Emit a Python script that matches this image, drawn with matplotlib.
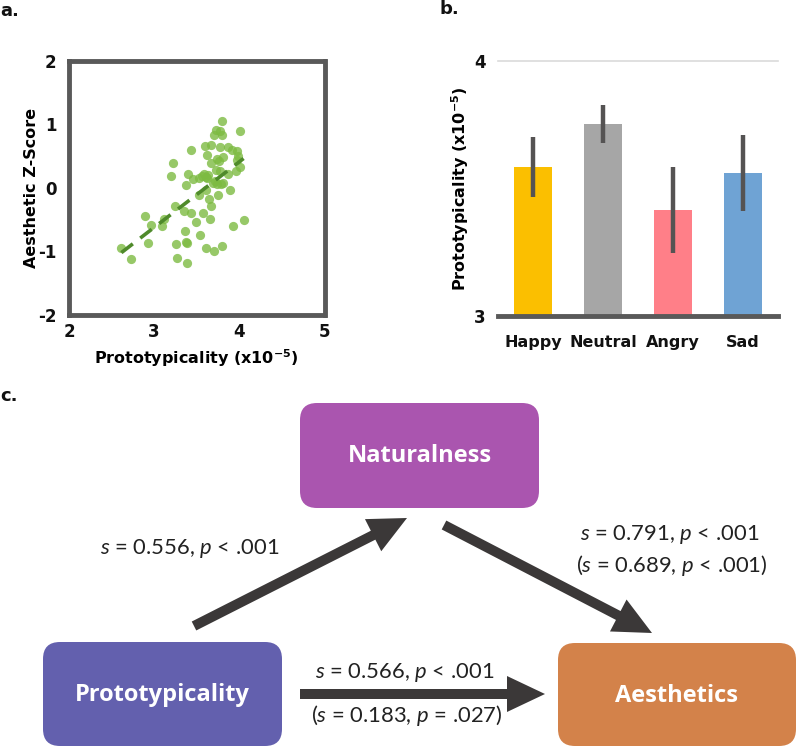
import matplotlib
matplotlib.use("Agg")
import matplotlib.pyplot as plt
from matplotlib.patches import FancyBboxPatch, FancyArrow
import numpy as np

plt.rcParams['font.family'] = ['DejaVu Sans']
plt.rcParams['mathtext.fontset'] = 'custom'
plt.rcParams['mathtext.it'] = 'Lato:italic'
plt.rcParams['mathtext.rm'] = 'Lato'
plt.rcParams['mathtext.default'] = 'regular'

# ---------------- data ----------------
# panel a: scatter of prototypicality (x1e-5) vs aesthetic z-score
proto_x = [3.798, 3.724, 3.778, 3.704, 3.798, 4.004, 3.428, 3.595, 3.673, 3.770,
           3.868, 3.914, 3.977, 3.619, 3.732, 3.809, 3.669, 3.759, 3.988, 3.977,
           4.004, 3.965, 3.222, 3.198, 3.401, 3.451, 3.374, 3.521, 3.580, 3.607,
           3.630, 3.778, 3.871, 3.696, 3.739, 3.786, 3.813, 3.603, 3.747, 3.887,
           3.521, 3.646, 3.665, 3.245, 3.354, 3.436, 3.572, 3.654, 3.490, 2.887,
           2.961, 3.117, 3.097, 3.362, 3.541, 3.922, 4.058, 2.922, 3.261, 3.377,
           3.389, 3.603, 3.704, 3.794, 2.615, 2.728, 3.272, 3.381, 3.724, 3.560,
           3.620, 3.712]
aesthetic_z = [1.043, 0.912, 0.891, 0.824, 0.829, 0.891, 0.599, 0.656, 0.672, 0.641,
               0.641, 0.588, 0.573, 0.520, 0.458, 0.484, 0.395, 0.421, 0.499, 0.431,
               0.327, 0.269, 0.384, 0.191, 0.212, 0.133, 0.039, 0.154, 0.222, 0.170,
               0.196, 0.269, 0.217, 0.076, 0.055, 0.065, 0.076, -0.029, -0.112, -0.039,
               -0.112, -0.175, -0.285, -0.290, -0.369, -0.400, -0.390, -0.494, -0.546, -0.442,
               -0.583, -0.484, -0.599, -0.682, -0.750, -0.599, -0.510, -0.871, -0.881, -0.850,
               -0.865, -0.949, -0.991, -0.918, -0.954, -1.116, -1.106, -1.184, 0.274, 0.180,
               0.150, 0.110]
trend_x = [2.615, 4.05]
trend_y = [-1.02, 0.46]
a_xticks = [2, 3, 4, 5]
a_yticks = [-2, -1, 0, 1, 2]

# panel b: mean prototypicality by emotion
emotions = ['Happy', 'Neutral', 'Angry', 'Sad']
proto_mean = [3.584, 3.753, 3.417, 3.560]
proto_err = [0.117, 0.076, 0.168, 0.149]
bar_colors = ['#FBBF00', '#A6A6A6', '#FF7F88', '#6FA3D4']
b_yticks = [3, 4]

# panel c: mediation diagram
node_names = ['Naturalness', 'Prototypicality', 'Aesthetics']
node_colors = ['#AA55AF', '#6360AE', '#D3824A']
path_a = r'$\mathit{s}$ = 0.556, $\mathit{p}$ < .001'
path_b = [r'$\mathit{s}$ = 0.791, $\mathit{p}$ < .001', r'($\mathit{s}$ = 0.689, $\mathit{p}$ < .001)']
path_c = [r'$\mathit{s}$ = 0.566, $\mathit{p}$ < .001', r'($\mathit{s}$ = 0.183, $\mathit{p}$ = .027)']

W, H = 797, 747
fig = plt.figure(figsize=(W / 100, H / 100), dpi=100)

spine_col = '#595959'
tick_font = dict(fontsize=12, fontweight='bold', color='#111111')

# ---------------- panel a ----------------
axa = fig.add_axes([69 / W, 1 - 315 / H, 255.5 / W, 254.5 / H])
axa.scatter(proto_x, aesthetic_z, s=44, color='#7DBB42', alpha=0.8, linewidths=0, zorder=2)
axa.plot(trend_x, trend_y, color='#4F8A2B', lw=2.6, dashes=(4, 2.6), zorder=3)
axa.set_xlim(2, 5)
axa.set_ylim(-2, 2)
axa.set_xticks(a_xticks)
axa.set_yticks(a_yticks)
axa.set_xticklabels([str(t) for t in a_xticks], **tick_font)
axa.set_yticklabels([str(t) for t in a_yticks], **tick_font)
axa.tick_params(length=0, pad=6)
axa.tick_params(axis='y', pad=9)
for sp in axa.spines.values():
    sp.set_color(spine_col)
    sp.set_linewidth(3.5)
axa.set_xlabel('Prototypicality (x10$^{-5}$)', fontsize=11.5, fontweight='bold', labelpad=4)
axa.set_ylabel('Aesthetic Z-Score', fontsize=11.5, fontweight='bold', labelpad=-1)

# ---------------- panel b ----------------
axb = fig.add_axes([498 / W, 1 - 316 / H, 280 / W, 255 / H])
xpos = np.arange(len(emotions))
axb.bar(xpos, np.array(proto_mean) - 3, bottom=3, width=0.557, color=bar_colors, zorder=2)
axb.errorbar(xpos, proto_mean, yerr=proto_err, fmt='none', ecolor='#555353',
             elinewidth=3.2, capsize=0, zorder=3)
axb.set_xlim(-0.5, 3.5)
axb.set_ylim(3, 4)
axb.axhline(4, color='#DADADA', lw=1.2, clip_on=False, zorder=1)
axb.set_xticks(xpos)
axb.set_xticklabels(emotions, fontsize=11.5, fontweight='bold', color='#111111')
axb.set_yticks(b_yticks)
axb.set_yticklabels([str(t) for t in b_yticks], **tick_font)
axb.tick_params(length=0)
axb.tick_params(axis='x', pad=14)
axb.tick_params(axis='y', pad=9)
for k in ['top', 'right', 'left']:
    axb.spines[k].set_visible(False)
axb.spines['bottom'].set_color(spine_col)
axb.spines['bottom'].set_linewidth(3.5)
axb.set_ylabel('Prototypicality (x10$^{-5}$)', fontsize=11.5, fontweight='bold', labelpad=2)

# ---------------- panel letters & diagram overlay ----------------
axc = fig.add_axes([0, 0, 1, 1])
axc.set_xlim(0, W)
axc.set_ylim(H, 0)
axc.axis('off')
axc.patch.set_alpha(0)

letter_kw = dict(fontsize=13, fontweight='bold', color='#111111', ha='left', va='center')
axc.text(0, 11, 'a.', **letter_kw)
axc.text(440, 9, 'b.', **letter_kw)
axc.text(0, 396, 'c.', **letter_kw)

boxes = [(300, 403, 239, 105), (43, 642, 239, 104), (558, 643, 238, 103)]
r = 17
for (x0, y0, w, h), name, col in zip(boxes, node_names, node_colors):
    p = FancyBboxPatch((x0 + r, y0 + r), w - 2 * r, h - 2 * r,
                       boxstyle=f"round,pad={r}", fc=col, ec='none')
    axc.add_patch(p)
    axc.text(x0 + w / 2, y0 + h / 2 + 1, name, ha='center', va='center', color='white',
             fontsize=17, fontweight='bold', family='Open Sans')

arrow_col = '#3B3838'
def arrow(x0, y0, x1, y1):
    a = FancyArrow(x0, y0, x1 - x0, y1 - y0, width=10, head_width=36, head_length=38,
                   length_includes_head=True, fc=arrow_col, ec='none')
    axc.add_patch(a)

arrow(194, 626, 407, 518)
arrow(444, 525, 652, 633)
arrow(300, 694, 545, 694)

c_kw = dict(ha='center', va='center', fontsize=15.8, color='#222222', family='Lato')
axc.text(190, 548, path_a, **c_kw)
axc.text(670, 535, path_b[0], **c_kw)
axc.text(672, 565, path_b[1], **c_kw)
axc.text(405, 673, path_c[0], **c_kw)
axc.text(407, 715, path_c[1], **c_kw)

fig.savefig('out.png', dpi=100)
